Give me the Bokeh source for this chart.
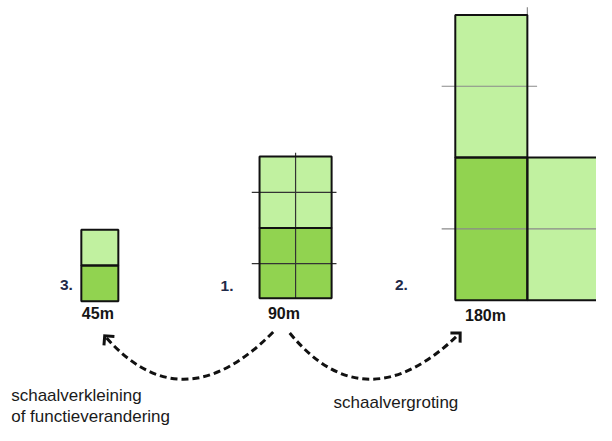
import numpy as np
from bokeh.plotting import figure
from bokeh.models import Range1d
from bokeh.core.properties import value
from bokeh.embed import file_html
from bokeh.resources import INLINE

# ---- diagram data (reference pixel coordinates, y grows downward) ----
LIGHT = "#c1f1a0"
DARK = "#91d350"

cell_left   = [83, 83, 266, 266, 467, 467, 541]
cell_right  = [121, 121, 340, 340, 541, 541, 640]
cell_top    = [238, 275, 162, 236, 15, 163, 163]
cell_bottom = [275, 312, 236, 309, 163, 311, 311]
cell_kind   = ["light", "dark", "light", "dark", "light", "dark", "light"]

grid_x0 = [303, 258, 258, 453, 453, 541]
grid_x1 = [303, 345, 345, 551, 640, 541]
grid_y0 = [158, 199, 273, 89, 237, 7]
grid_y1 = [309, 199, 273, 89, 237, 15]
grid_col = ["#333333", "#333333", "#333333", "#8a8a8a", "#8a8a8a", "#8a8a8a"]

scale_labels = ["45m", "90m", "180m"]
scale_x = [100, 291, 498]
scale_y = [325, 325, 327]

step_labels = ["3.", "1.", "2."]
step_x = [61, 226, 405]
step_y = [295, 296, 295]

# dashed curved arrows: start, control, tip
arc_x0 = [280, 297]
arc_y0 = [344, 345]
arc_cx = [186, 375]
arc_cy = [440, 441]
arc_x1 = [107, 472]
arc_y1 = [348, 345]

caption_texts = ["schaalverkleining", "of functieverandering", "schaalvergroting"]
caption_x = [11, 11, 342]
caption_y = [410, 432, 417]

FONT = value("Liberation Sans")

p = figure(width=596, height=425, output_backend="svg", toolbar_location=None,
           x_axis_type=None, y_axis_type=None, min_border=0,
           x_range=Range1d(0, 612), y_range=Range1d(441, 0))
p.grid.visible = False
p.outline_line_color = None
p.background_fill_color = "white"
p.border_fill_color = "white"

fills = [LIGHT if k == "light" else DARK for k in cell_kind]
p.quad(left=cell_left, right=cell_right, top=cell_top, bottom=cell_bottom,
       fill_color=fills, line_color=None)

p.segment(x0=grid_x0, y0=grid_y0, x1=grid_x1, y1=grid_y1,
          line_color=grid_col, line_width=1.2)

p.quad(left=cell_left, right=cell_right, top=cell_top, bottom=cell_bottom,
       fill_color=None, line_color="#111111", line_width=2)

# curved dashed arrows
p.quadratic(x0=arc_x0, y0=arc_y0, x1=arc_x1, y1=arc_y1, cx=arc_cx, cy=arc_cy,
            line_color="#111111", line_width=3, line_dash="7 4")

# open arrowheads at the tips, aligned with the curve tangent
head_xs, head_ys = [], []
L = 10.0
for tx, ty, cx, cy in zip(arc_x1, arc_y1, arc_cx, arc_cy):
    d = np.array([tx - cx, ty - cy], dtype=float)
    d /= np.linalg.norm(d)
    r = -d
    arms = []
    for ang in (np.pi / 4, -np.pi / 4):
        c, s = np.cos(ang), np.sin(ang)
        v = np.array([c * r[0] - s * r[1], s * r[0] + c * r[1]])
        arms.append((tx + L * v[0], ty + L * v[1]))
    head_xs.append([arms[0][0], tx, arms[1][0]])
    head_ys.append([arms[0][1], ty, arms[1][1]])
p.multi_line(xs=head_xs, ys=head_ys, line_color="#111111", line_width=3,
             line_join="miter")

p.text(x=scale_x, y=scale_y, text=scale_labels, text_font=FONT,
       text_font_size="16px", text_font_style="bold", text_color="#151515",
       text_align="center", text_baseline="middle")

p.text(x=step_x, y=step_y, text=step_labels, text_font=FONT,
       text_font_size="15.5px", text_font_style="bold", text_color="#1f2a48",
       text_align="left", text_baseline="middle")

p.text(x=caption_x, y=caption_y, text=caption_texts, text_font=FONT,
       text_font_size="17px", text_color="#1a1a1a",
       text_align="left", text_baseline="middle")

open("out.html", "w").write(file_html(p, INLINE))
